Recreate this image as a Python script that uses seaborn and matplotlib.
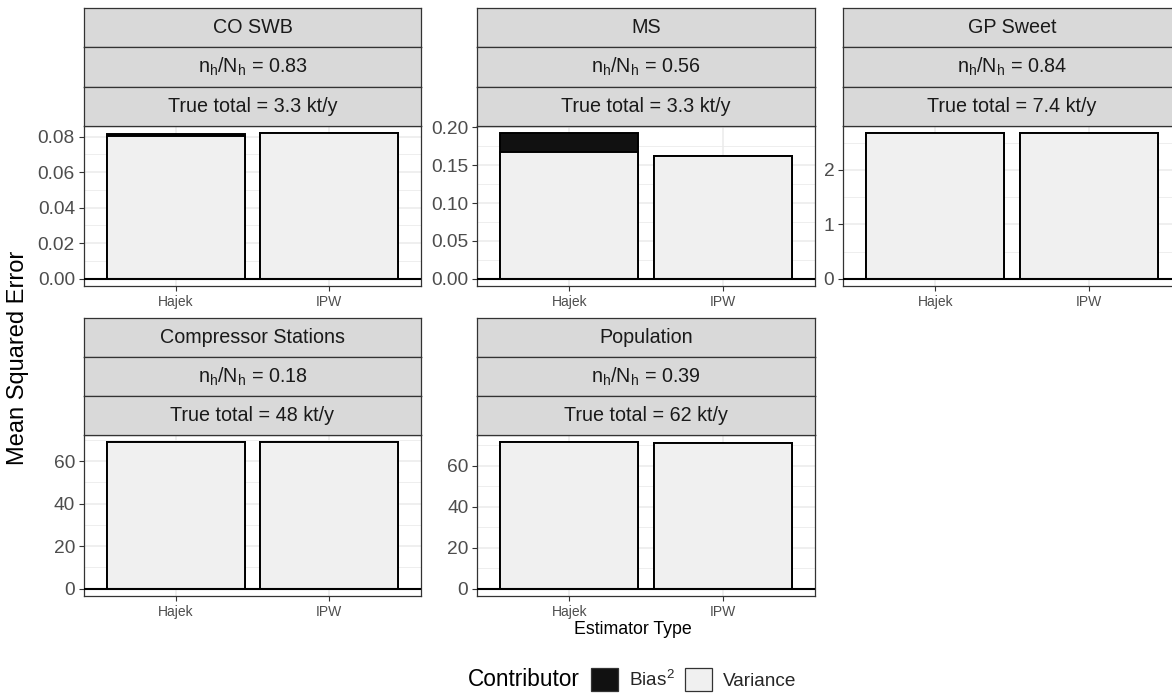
import numpy as np
import pandas as pd
import matplotlib
matplotlib.use('Agg')
import matplotlib.pyplot as plt
import seaborn as sns
from matplotlib.patches import Patch
from matplotlib.ticker import MultipleLocator, FormatStrFormatter

# Data
panels = ['CO SWB', 'MS', 'GP Sweet', 'Compressor Stations', 'Population']
sample_ratio = ['0.83', '0.56', '0.84', '0.18', '0.39']
true_total = ['3.3', '3.3', '7.4', '48', '62']
estimators = ['Hajek', 'IPW']
variance_hajek = [0.0805, 0.168, 2.68, 68.8, 71.4]
variance_ipw = [0.0820, 0.1615, 2.68, 68.8, 71.3]
bias2_hajek = [0.0008, 0.0245, 0.0, 0.0, 0.0]
bias2_ipw = [0.0, 0.0, 0.0, 0.0, 0.0]
y_step = [0.02, 0.05, 1, 20, 20]
y_fmt = ['%.2f', '%.2f', '%d', '%d', '%d']

# long table
rows = []
for i, p in enumerate(panels):
    rows.append([p, 'Hajek', variance_hajek[i], bias2_hajek[i]])
    rows.append([p, 'IPW', variance_ipw[i], bias2_ipw[i]])
df = pd.DataFrame(rows, columns=['Panel', 'Estimator', 'Variance', 'Bias2'])
df['Total'] = df['Variance'] + df['Bias2']

sns.set_theme(style='ticks')
plt.rcParams['font.family'] = ['Liberation Sans', 'DejaVu Sans']
plt.rcParams['mathtext.fontset'] = 'custom'
plt.rcParams['mathtext.rm'] = 'Liberation Sans'
plt.rcParams['mathtext.it'] = 'Liberation Sans'

bias_col = '#111111'
var_col = '#F0F0F0'

W, H = 1172, 694
fig = plt.figure(figsize=(W / 100, H / 100), dpi=100)


def box(x0, y0, x1, y1):
    return [x0 / W, 1 - y1 / H, (x1 - x0) / W, (y1 - y0) / H]


cols = [(84.0, 421.0), (477.3, 814.5), (843.3, 1180.5)]
rowpos = [(8.3, 125.7, 286.0), (317.7, 435.0, 596.0)]

for i, p in enumerate(panels):
    x0, x1 = cols[i % 3]
    st, pt, pb = rowpos[i // 3]
    sub = df[df['Panel'] == p]

    ax = fig.add_axes(box(x0, pt, x1, pb))
    # stacked bars: total (bias on top) first, variance drawn over it
    sns.barplot(data=sub, x='Estimator', y='Total', order=estimators, color=bias_col,
                saturation=1, width=0.9, edgecolor='black', linewidth=1.4, ax=ax)
    sns.barplot(data=sub, x='Estimator', y='Variance', order=estimators, color=var_col,
                saturation=1, width=0.9, edgecolor='black', linewidth=1.4, ax=ax)
    ax.axhline(0, color='black', lw=1.5, zorder=3)

    m = sub['Total'].max()
    ax.set_xlim(-0.6, 1.6)
    ax.set_ylim(-0.05 * m, 1.05 * m)
    ax.yaxis.set_major_locator(MultipleLocator(y_step[i]))
    ax.yaxis.set_minor_locator(MultipleLocator(y_step[i] / 2))
    ax.yaxis.set_major_formatter(FormatStrFormatter(y_fmt[i]))
    ax.set_axisbelow(True)
    ax.grid(which='major', color='#EBEBEB', lw=1.1)
    ax.grid(which='minor', axis='y', color='#EBEBEB', lw=0.6)
    ax.set_xlabel('')
    ax.set_ylabel('')
    ax.tick_params(axis='y', which='major', labelsize=13.8, labelcolor='#4D4D4D',
                   color='#333333', length=3.6, width=0.8, pad=2.9)
    ax.tick_params(axis='x', which='major', labelsize=10, labelcolor='#4D4D4D',
                   color='#333333', length=3.6, width=0.8, pad=2.9)
    ax.tick_params(which='minor', length=0)
    for s in ax.spines.values():
        s.set_color('#333333')
        s.set_linewidth(0.9)
        s.set_visible(True)

    # facet strips
    sh = (pt - st) / 3
    labels = [p, r'$\mathregular{n_h/N_h}$ = ' + sample_ratio[i],
              'True total = ' + true_total[i] + ' kt/y']
    for k, lab in enumerate(labels):
        sax = fig.add_axes(box(x0, st + k * sh, x1, st + (k + 1) * sh))
        sax.set_facecolor('#D9D9D9')
        sax.set_xticks([])
        sax.set_yticks([])
        for s in sax.spines.values():
            s.set_color('#333333')
            s.set_linewidth(0.9)
        sax.text(0.5, 0.5, lab, ha='center', va='center', fontsize=14.2,
                 color='#1A1A1A', transform=sax.transAxes)

fig.text(18 / W, 1 - 358 / H, 'Mean Squared Error', rotation=90, ha='center',
         va='center', fontsize=17, color='black')
fig.text(632.6 / W, 1 - 629 / H, 'Estimator Type', ha='center', va='center',
         fontsize=12.8, color='black')

# legend
fig.text(468 / W, 1 - 679.5 / H, 'Contributor', ha='left', va='center',
         fontsize=16.3, color='black')
handles = [Patch(facecolor=bias_col, edgecolor='#333333', linewidth=0.9),
           Patch(facecolor=var_col, edgecolor='#333333', linewidth=0.9)]
fig.legend(handles=handles, labels=[r'Bias$^2$', 'Variance'], ncol=2,
           loc='center left', bbox_to_anchor=(590.7 / W, 1 - 679.5 / H),
           frameon=False, fontsize=13.7, handlelength=1.42, handleheight=1.42,
           handletextpad=0.58, columnspacing=0.53, borderpad=0, borderaxespad=0)

fig.savefig('out.png', dpi=100)
